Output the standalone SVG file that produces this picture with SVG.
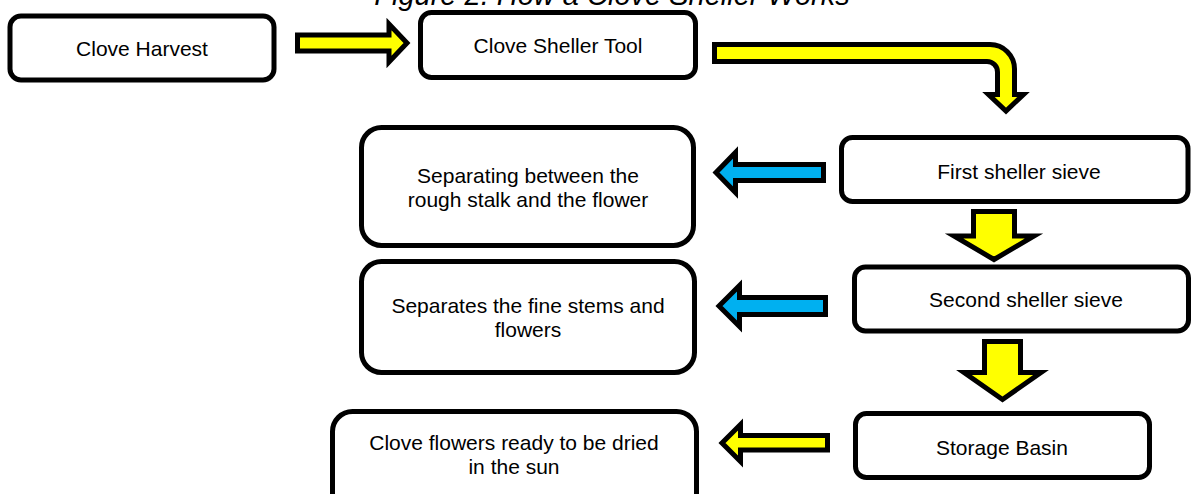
<svg xmlns="http://www.w3.org/2000/svg" width="1192" height="494" viewBox="0 0 1192 494">
<style>
.box{fill:#fff;stroke:#000;stroke-width:5}
.t{font-family:"Liberation Sans",Arial,sans-serif;font-size:21px;fill:#000;text-anchor:middle}
.title{font-family:"Liberation Sans",Arial,sans-serif;font-size:29px;font-style:italic;fill:#000;text-anchor:middle}
.ya{fill:#FFFF00;stroke:#000;stroke-width:5;stroke-linejoin:miter}
.ba{fill:#00B0F0;stroke:#000;stroke-width:5;stroke-linejoin:miter}
</style>
<rect width="1192" height="494" fill="#fff"/>
<text class="title" x="612" y="5">Figure 2. How a Clove Sheller Works</text>
<g id="n-harvest"><rect class="box" x="10" y="16" width="264" height="64" rx="11"/><text class="t" x="142" y="56">Clove Harvest</text></g>
<g id="n-tool"><rect class="box" x="420.5" y="12.5" width="275" height="65" rx="11"/><text class="t" x="558" y="53">Clove Sheller Tool</text></g>
<g id="n-first"><rect class="box" x="841.5" y="137.5" width="346.5" height="64" rx="11"/><text class="t" x="1019" y="179">First sheller sieve</text></g>
<g id="n-second"><rect class="box" x="854.5" y="267" width="334" height="64" rx="11"/><text class="t" x="1026" y="307">Second sheller sieve</text></g>
<g id="n-storage"><rect class="box" x="855.5" y="413.5" width="294" height="64" rx="11"/><text class="t" x="1002" y="455">Storage Basin</text></g>
<g id="n-separating"><rect class="box" x="361.5" y="127.5" width="332" height="118" rx="20"/><text class="t" x="528" y="183">Separating between the</text><text class="t" x="528" y="207">rough stalk and the flower</text></g>
<g id="n-separates"><rect class="box" x="361.5" y="261.5" width="333" height="111" rx="20"/><text class="t" x="528" y="313">Separates the fine stems and</text><text class="t" x="528" y="337">flowers</text></g>
<g id="n-ready"><rect class="box" x="332.5" y="411.5" width="364" height="110" rx="20"/><text class="t" x="514" y="450">Clove flowers ready to be dried</text><text class="t" x="514" y="474">in the sun</text></g>
<g id="connectors">
<path class="ya" d="M297.5,35 H389 V24 L407,43 L389,62 V51 H297.5 Z"/>
<path class="ya" d="M714.5,44.5 H990 A24.5,24.5 0 0 1 1014.5,69 V94.5 H1023.5 L1006,111 L988.5,94.5 H997.5 V72 A10.5,10.5 0 0 0 987,61.5 H714.5 Z"/>
<path class="ba" d="M823.5,164.5 H735.5 V152.5 L716,172.5 L735.5,192.5 V180.5 H823.5 Z"/>
<path class="ba" d="M825.5,297.5 H739.5 V285.5 L719,306 L739.5,326.5 V314.5 H825.5 Z"/>
<path class="ya" d="M827.5,435.5 H740.5 V424.5 L722,443 L740.5,461.5 V450 H827.5 Z"/>
<path class="ya" d="M973.5,211.5 H1014.5 V236 H1034 L994,259.5 L954,236 H973.5 Z"/>
<path class="ya" d="M984.5,341.5 H1020.5 V372.5 H1041 L1002.5,399.5 L964,372.5 H984.5 Z"/>
</g>
</svg>
